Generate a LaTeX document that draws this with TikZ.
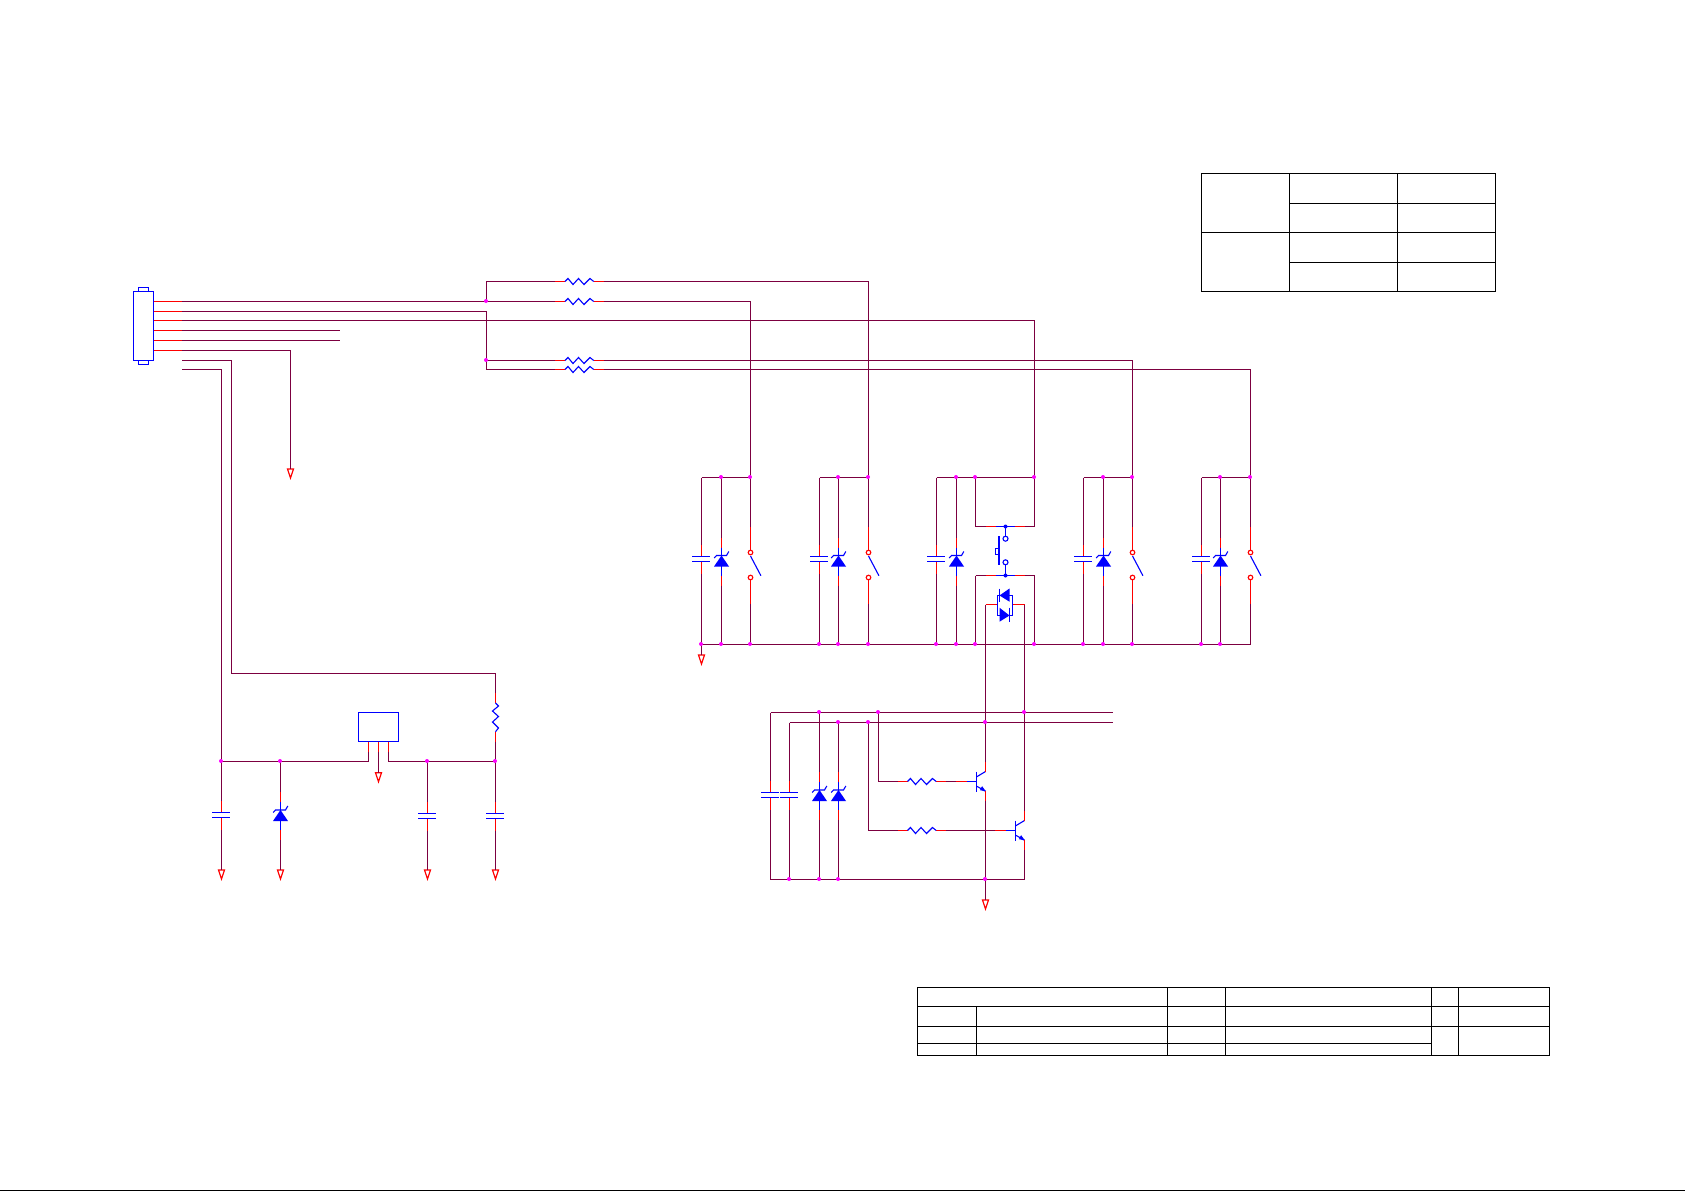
\documentclass[tikz,border=0pt]{standalone}
\usepackage{amsmath,amssymb}

\definecolor{wirecol}{HTML}{7C0040}
\definecolor{dotcol}{HTML}{FF00FF}
\tikzset{
  wire/.style={draw=wirecol,line width=1.15pt},
  stub/.style={draw=red,line width=1.15pt},
  part/.style={draw=blue,line width=1.1pt},
  tab/.style={draw=black,line width=1.1pt},
  box/.style={part,rectangle,inner sep=0pt,outer sep=0pt}
}

% vertical capacitor, upper plate at #3
\newcommand{\capv}[3]{
  \coordinate (#1t) at (#2,#3-11.5);
  \coordinate (#1b) at (#2,#3+17.5);
  \draw[stub] (#1t)--(#2,#3);
  \draw[stub] (#2,#3+5)--(#1b);
  \draw[part] (#2-9.5,#3)--(#2+8.5,#3);
  \draw[part] (#2-9.5,#3+5)--(#2+8.5,#3+5);
}
% zener pointing up, tip at #3
\newcommand{\zenerv}[3]{
  \coordinate (#1t) at (#2,#3-18);
  \coordinate (#1b) at (#2,#3+30);
  \draw[stub] (#1t)--(#2,#3-8);
  \draw[stub] (#2,#3+20)--(#1b);
  \draw[part] (#2,#3-8)--(#2,#3+20);
  \draw[part] (#2-7.3,#3+2.5)--(#2-5,#3)--(#2+5,#3)--(#2+7.3,#3-4);
  \fill[blue] (#2,#3)--(#2+7.5,#3+11)--(#2-7.5,#3+11)--cycle;
}
% resistor, first end of the zigzag at #2,#3, turned by #4
\newcommand{\resist}[4]{
  \begin{scope}[shift={(#2,#3)},rotate=#4]
    \coordinate (#1l) at (-10,0);
    \coordinate (#1r) at (38.7,0);
    \draw[stub] (#1l)--(0,0);
    \draw[stub] (28.7,0)--(#1r);
    \draw[part] (0,0)--(3,-3)--(8,3)--(13.5,-3)--(19,3)--(25,-3)--(28.7,0);
  \end{scope}
}
% open switch
\newcommand{\switchv}[2]{
  \coordinate (#1t) at (#2,526.5);
  \coordinate (#1b) at (#2,604);
  \draw[stub] (#1t)--(#2,550);
  \draw[stub] (#2,580)--(#1b);
  \draw[stub] (#2,552.5) circle [radius=2.3];
  \draw[stub] (#2,577.5) circle [radius=2.3];
  \draw[part] (#2,556)--(#2+10.4,575.7);
}
% transistor, bar at #2, base at height #3
\newcommand{\npn}[3]{
  \coordinate (#1b) at (#2-20.5,#3);
  \coordinate (#1c) at (#2+9,#3-20);
  \coordinate (#1e) at (#2+9,#3+19.5);
  \draw[stub] (#1b)--(#2-10,#3);
  \draw[part] (#2-10,#3)--(#2,#3);
  \draw[part] (#2,#3-10)--(#2,#3+10);
  \draw[part] (#2,#3-4.6)--(#2+9,#3-10);
  \draw[part] (#2,#3+4.6)--(#2+9,#3+9.6);
  \fill[blue] (#2+9.3,#3+10)--(#2+3.4,#3+8.6)--(#2+5.6,#3+4.6)--cycle;
  \draw[stub] (#2+9,#3-10)--(#1c);
  \draw[stub] (#2+9,#3+9.6)--(#1e);
}
% open triangle for ground
\newcommand{\gnd}[3]{
  \coordinate (#1) at (#2,#3);
  \draw[stub] (#2-3,#3)--(#2+3,#3)--(#2,#3+9)--cycle;
}

\begin{document}
\begin{tikzpicture}[x=1pt,y=-1pt]
  \useasboundingbox (0,0) rectangle (1685,1191);

  % connector and its pins
  \node[box,minimum width=20pt,minimum height=69pt] (conn) at (143.5,326) {};
  \draw[part] (138.5,291.5) rectangle (148.5,287.5);
  \draw[part] (138.5,360.5) rectangle (148.5,364.5);
  \foreach \p/\y in {a/301.5,b/311.5,c/320.5,d/330.5,e/340.5,f/350.5}{
    \coordinate (pin\p) at (153.5,\y);
    \coordinate (sp\p) at (182,\y);
    \draw[stub] (pin\p)--(sp\p);
  }
  \coordinate (spg) at (182,360.5);
  \coordinate (sph) at (182,369.5);

  \resist{ra}{565}{281.5}{0}
  \resist{rb}{565}{301.5}{0}
  \resist{rc}{565}{360.5}{0}
  \resist{rd}{565}{369.5}{0}

  \coordinate (ja) at (486.5,301.5);
  \coordinate (jb) at (486.5,360.5);
  \coordinate (kb) at (486.5,311.5);
  \coordinate (ka) at (486.5,281.5);
  \coordinate (kd) at (486.5,369.5);
  \coordinate (endd) at (339.5,330.5);
  \coordinate (ende) at (339.5,340.5);

  \draw[wire] (spa)--(ja)--(rbl);
  \draw[wire] (ja)--(ka)--(ral);
  \draw[wire] (spb)--(kb)--(jb)--(rcl);
  \draw[wire] (jb)--(kd)--(rdl);
  \draw[wire] (spd)--(endd);
  \draw[wire] (spe)--(ende);

  \gnd{ga}{290.5}{469}
  \draw[wire] (spf)-|(ga);

  % switch groups
  \foreach \i/\cx/\zx/\sx in {1/701.5/721.5/750.5,2/819.5/838.5/868.5,4/1083.5/1103.5/1132.5,5/1201.5/1220.5/1250.5}{
    \coordinate (tc\i) at (\cx,477.5);
    \coordinate (tz\i) at (\zx,477.5);
    \coordinate (ts\i) at (\sx,477.5);
    \coordinate (bc\i) at (\cx,644.5);
    \coordinate (bz\i) at (\zx,644.5);
    \coordinate (bs\i) at (\sx,644.5);
    \capv{c\i}{\cx}{556.5}
    \zenerv{z\i}{\zx}{555.5}
    \switchv{s\i}{\sx}
    \draw[wire] (tc\i)--(ts\i);
    \draw[wire] (tc\i)--(c\i t);
    \draw[wire] (c\i b)--(bc\i);
    \draw[wire] (tz\i)--(z\i t);
    \draw[wire] (z\i b)--(bz\i);
    \draw[wire] (ts\i)--(s\i t);
    \draw[wire] (s\i b)--(bs\i);
  }

  % group with the push button
  \coordinate (tc3) at (936.5,477.5);
  \coordinate (tz3) at (956.5,477.5);
  \coordinate (tl3) at (975.5,477.5);
  \coordinate (tr3) at (1034.5,477.5);
  \coordinate (bc3) at (936.5,644.5);
  \coordinate (bz3) at (956.5,644.5);
  \coordinate (bl3) at (975.5,644.5);
  \coordinate (br3) at (1034.5,644.5);
  \capv{c3}{936.5}{556.5}
  \zenerv{z3}{956.5}{555.5}
  \draw[wire] (tc3)--(tr3);
  \draw[wire] (tc3)--(c3t);
  \draw[wire] (c3b)--(bc3);
  \draw[wire] (tz3)--(z3t);
  \draw[wire] (z3b)--(bz3);
  \foreach \n/\y in {u/526.5,d/575.5}{
    \coordinate (l\n) at (975.5,\y);
    \coordinate (r\n) at (1034.5,\y);
    \coordinate (m\n) at (1005.5,\y);
    \draw[wire] (l\n)--(986,\y);
    \draw[stub] (986,\y)--(995.5,\y);
    \draw[part] (995.5,\y)--(1014.5,\y);
    \draw[stub] (1014.5,\y)--(1024.5,\y);
    \draw[wire] (1024.5,\y)--(r\n);
    \fill[blue] (m\n) circle [radius=2];
  }
  \draw[wire] (tl3)--(lu);
  \draw[wire] (tr3)--(ru);
  \draw[wire] (ld)--(bl3);
  \draw[wire] (rd)--(br3);
  \draw[part] (mu)--(1005.5,536.2);
  \draw[part] (1005.5,538.7) circle [radius=2.5];
  \draw[part] (1005.5,562.3) circle [radius=2.5];
  \draw[part] (1005.5,564.8)--(md);
  \draw[part,line width=1.6pt] (998.7,536)--(998.7,565.3);
  \draw[part] (995.5,548.5) rectangle (998.7,554.5);

  % twin diodes
  \coordinate (dl) at (985.5,604.5);
  \coordinate (dr) at (1024.5,604.5);
  \draw[stub] (dl)--(997.5,604.5);
  \draw[stub] (1012.5,604.5)--(dr);
  \draw[part] (997.5,595.5) rectangle (1012.5,615.5);
  \fill[blue] (999.5,595.5)--(1009.5,588.5)--(1009.5,601.7)--cycle;
  \fill[blue] (1009.5,615.5)--(999.5,607.7)--(999.5,621.7)--cycle;
  \draw[part] (999.5,588.5)--(999.5,601.7);
  \draw[part] (1009.5,607.7)--(1009.5,621.7);

  % long runs to the groups
  \draw[wire] (rbr)-|(ts1);
  \draw[wire] (rar)-|(ts2);
  \draw[wire] (spc)-|(tr3);
  \draw[wire] (rcr)-|(ts4);
  \draw[wire] (rdr)-|(ts5);
  \coordinate (corner) at (1250.5,644.5);
  \draw[wire] (bc1)--(corner);
  \gnd{gb}{701.5}{655}
  \draw[wire] (bc1)--(gb);

  % lower driver stage
  \coordinate (b1l) at (770.5,712.5);
  \coordinate (b1r) at (1112.7,712.5);
  \coordinate (b2l) at (789.5,722.5);
  \coordinate (b2r) at (1112.7,722.5);
  \coordinate (fl) at (770.5,879.5);
  \coordinate (fr) at (1024.5,879.5);
  \coordinate (j1a) at (819.5,712.5);
  \coordinate (j1b) at (878.5,712.5);
  \coordinate (j1c) at (1024.5,712.5);
  \coordinate (j2a) at (838.5,722.5);
  \coordinate (j2b) at (868.5,722.5);
  \coordinate (j2c) at (985.5,722.5);
  \coordinate (f2) at (789.5,879.5);
  \coordinate (f3) at (819.5,879.5);
  \coordinate (f4) at (838.5,879.5);
  \coordinate (f5) at (985.5,879.5);
  \draw[wire] (b1l)--(b1r);
  \draw[wire] (b2l)--(b2r);
  \draw[wire] (fl)--(fr);

  \capv{c6}{770.5}{792.5}
  \capv{c7}{789.5}{792.5}
  \zenerv{z6}{819.5}{790}
  \zenerv{z7}{838.5}{790}
  \draw[wire] (b1l)--(c6t);
  \draw[wire] (c6b)--(fl);
  \draw[wire] (b2l)--(c7t);
  \draw[wire] (c7b)--(f2);
  \draw[wire] (j1a)--(z6t);
  \draw[wire] (z6b)--(f3);
  \draw[wire] (j2a)--(z7t);
  \draw[wire] (z7b)--(f4);

  \resist{re}{907.5}{781.5}{0}
  \resist{rf}{907.5}{830.5}{0}
  \npn{qa}{976.5}{781.5}
  \npn{qb}{1015.5}{830.5}
  \coordinate (kc) at (878.5,781.5);
  \coordinate (ke) at (868.5,830.5);
  \draw[wire] (j1b)--(kc)--(rel);
  \draw[wire] (j2b)--(ke)--(rfl);
  \draw[wire] (rer)--(qab);
  \draw[wire] (rfr)--(qbb);
  \draw[wire] (dl)--(qac);
  \draw[wire] (dr)--(qbc);
  \draw[wire] (qbe)--(fr);
  \gnd{gc}{985.5}{900}
  \draw[wire] (qae)--(gc);

  % stabiliser at the left
  \node[box,minimum width=40pt,minimum height=29pt] (reg) at (378.5,727) {};
  \coordinate (rp1) at (368.5,741.5);
  \coordinate (rp2) at (378.5,741.5);
  \coordinate (rp3) at (388.5,741.5);
  \coordinate (hl) at (221.5,761.5);
  \coordinate (h2) at (280.5,761.5);
  \coordinate (h3) at (368.5,761.5);
  \coordinate (h4) at (388.5,761.5);
  \coordinate (h5) at (427.5,761.5);
  \coordinate (h6) at (495.5,761.5);
  \coordinate (kg) at (231.5,360.5);
  \coordinate (kh) at (221.5,369.5);
  \coordinate (kr) at (495.5,673.5);
  \coordinate (kv) at (231.5,673.5);
  \foreach \n in {1,2,3}{
    \draw[stub] (rp\n)--++(0,10);
  }
  \draw[wire] (hl)--(h3)--(368.5,751.5);
  \draw[wire] (388.5,751.5)--(h4)--(h6);
  \gnd{gd}{378.5}{772.7}
  \draw[wire] (378.5,751.5)--(gd);

  \resist{rg}{495.5}{703}{-90}
  \draw[wire] (spg)--(kg)--(kv)--(kr)--(rgl);
  \draw[wire] (rgr)--(h6);
  \draw[wire] (sph)--(kh)--(hl);

  \capv{c8}{221.5}{812.5}
  \capv{c9}{427.5}{813.5}
  \capv{c10}{495.5}{813.5}
  \zenerv{z8}{280.5}{810}
  \gnd{ge}{221.5}{870}
  \gnd{gf}{280.5}{870}
  \gnd{gg}{427.5}{870}
  \gnd{gh}{495.5}{870}
  \draw[wire] (hl)--(c8t);
  \draw[wire] (c8b)--(ge);
  \draw[wire] (h2)--(z8t);
  \draw[wire] (z8b)--(gf);
  \draw[wire] (h5)--(c9t);
  \draw[wire] (c9b)--(gg);
  \draw[wire] (h6)--(c10t);
  \draw[wire] (c10b)--(gh);

  % junction dots
  \foreach \p in {ja,jb,tz1,ts1,tz2,ts2,tz3,tl3,tr3,tz4,ts4,tz5,ts5,
                  bc1,bz1,bs1,bc2,bz2,bs2,bc3,bz3,bl3,br3,bc4,bz4,bs4,bc5,bz5,
                  j1a,j1b,j1c,j2a,j2b,j2c,f2,f3,f4,f5,hl,h2,h5,h6}{
    \fill[dotcol] ([shift={(-0.5,-0.5)}]\p) circle [radius=2];
  }

  % table at the top right
  \draw[tab] (1201.5,173.5) rectangle (1495.5,291.5);
  \draw[tab] (1289.5,173.5)--(1289.5,291.5);
  \draw[tab] (1397.5,173.5)--(1397.5,291.5);
  \draw[tab] (1201.5,232.5)--(1495.5,232.5);
  \foreach \y in {203.5,262.5}{
    \draw[tab] (1289.5,\y)--(1495.5,\y);
  }

  % title block
  \draw[tab] (917.5,987.5) rectangle (1549.5,1055.5);
  \foreach \y in {1006.5,1026.5}{
    \draw[tab] (917.5,\y)--(1549.5,\y);
  }
  \draw[tab] (917.5,1043.5)--(1431.5,1043.5);
  \draw[tab] (976.5,1006.5)--(976.5,1055.5);
  \foreach \x in {1167.5,1225.5,1431.5,1458.5}{
    \draw[tab] (\x,987.5)--(\x,1055.5);
  }

  % line along the lower edge
  \coordinate (edgel) at (0,1190.5);
  \coordinate (edger) at (1685,1190.5);
  \draw[tab] (edgel)--(edger);
\end{tikzpicture}
\end{document}
